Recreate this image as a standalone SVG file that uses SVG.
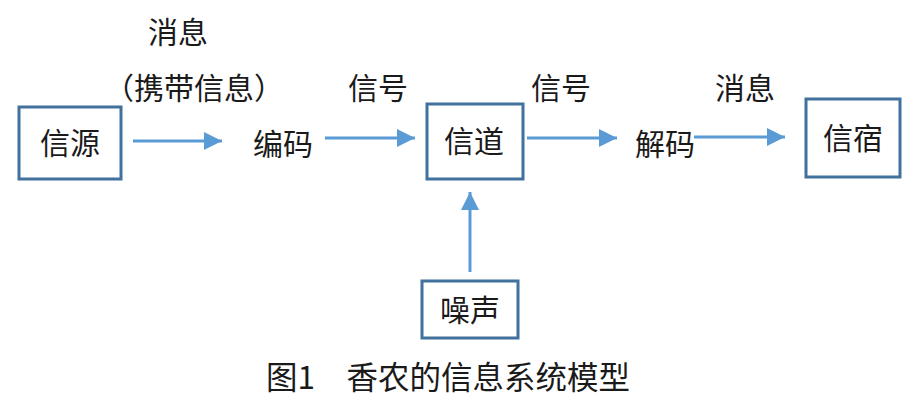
<svg xmlns="http://www.w3.org/2000/svg" width="924" height="408" viewBox="0 0 924 408">
<defs>
<style>
.box{fill:#fff;stroke:#41719c;stroke-width:3}
.t{font-family:"Noto Sans CJK SC","Liberation Sans",sans-serif;font-size:30px;fill:#1a1a1a;text-anchor:middle}
.cap{font-family:"Noto Sans CJK SC","Liberation Sans",sans-serif;font-size:31.5px;fill:#1a1a1a}
.ln{stroke:#5b9bd5;stroke-width:3;fill:none}
</style>
<marker id="ah" markerUnits="userSpaceOnUse" markerWidth="20" markerHeight="20" refX="18" refY="10" orient="auto">
<path d="M0,1 L18,10 L0,19 Z" fill="#5b9bd5"/>
</marker>
</defs>
<rect width="924" height="408" fill="#fff"/>
<g id="labels">
<text class="t" x="178" y="43">消息</text>
<text class="t" x="194" y="99">（携带信息）</text>
<text class="t" x="283" y="155">编码</text>
<text class="t" x="378" y="99">信号</text>
<text class="t" x="561" y="99">信号</text>
<text class="t" x="665" y="155">解码</text>
<text class="t" x="745" y="99">消息</text>
</g>
<g id="n-source"><rect class="box" x="19" y="107" width="102" height="72"/><text class="t" x="70" y="154">信源</text></g>
<g id="n-channel"><rect class="box" x="427" y="104" width="96" height="75"/><text class="t" x="474" y="152">信道</text></g>
<g id="n-sink"><rect class="box" x="806" y="99" width="94" height="78"/><text class="t" x="853" y="149">信宿</text></g>
<g id="n-noise"><rect class="box" x="422" y="281" width="96" height="57"/><text class="t" x="470" y="321">噪声</text></g>
<g id="connectors">
<line class="ln" x1="133" y1="141" x2="222" y2="141" marker-end="url(#ah)"/>
<line class="ln" x1="325" y1="138" x2="415" y2="138" marker-end="url(#ah)"/>
<line class="ln" x1="527" y1="138" x2="617" y2="138" marker-end="url(#ah)"/>
<line class="ln" x1="694" y1="137" x2="785" y2="137" marker-end="url(#ah)"/>
<line class="ln" x1="470" y1="272" x2="470" y2="192" marker-end="url(#ah)"/>
</g>
<g id="caption"><text class="cap" x="266" y="389">图1　香农的信息系统模型</text></g>
</svg>
